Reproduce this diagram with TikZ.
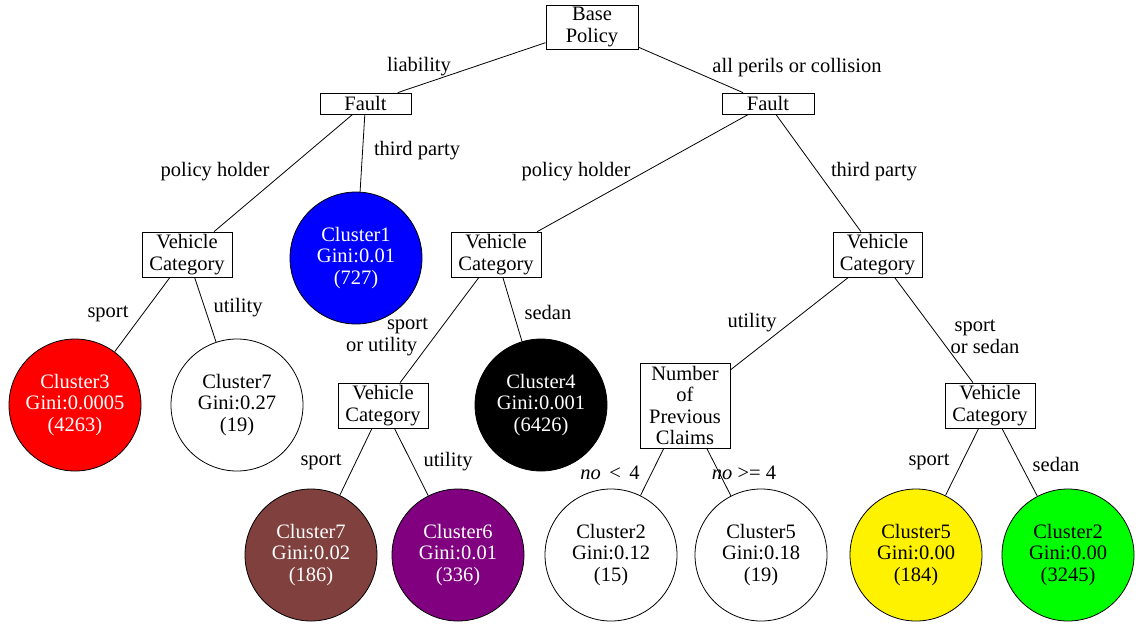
\documentclass[tikz,border=0pt]{standalone}
\usepackage{fontspec}
\setmainfont{Liberation Serif}
\begin{document}
\begin{tikzpicture}[x=1pt,y=-1pt,
  every node/.style={font=\fontsize{20.5}{21.5}\selectfont},
  test/.style={draw,line width=0.8pt,align=center,inner sep=1pt,fill=white},
  leaf/.style={circle,draw,line width=0.8pt,minimum size=132pt,inner sep=0pt,align=center},
  edge/.style={line width=0.8pt},
  lbl/.style={align=center,inner sep=0pt}]
\useasboundingbox (0,0) rectangle (1139,625);
% internal nodes
\node[test,minimum width=92pt,minimum height=44pt] (root) at (592,27) {Base\\Policy};
\node[test,minimum width=91pt,minimum height=21pt,inner sep=0pt] (f1) at (365.5,103.5) {Fault};
\node[test,minimum width=92pt,minimum height=21pt,inner sep=0pt] (f2) at (768,103.5) {Fault};
\node[test,minimum width=90pt,minimum height=45pt] (v1) at (187,254.5) {Vehicle\\Category};
\node[test,minimum width=90pt,minimum height=45pt] (v2) at (496,254.5) {Vehicle\\Category};
\node[test,minimum width=89pt,minimum height=45pt] (v3) at (877.5,254.5) {Vehicle\\Category};
\node[test,minimum width=90pt,minimum height=45pt] (v4) at (383,405.5) {Vehicle\\Category};
\node[test,minimum width=90pt,minimum height=45pt] (v5) at (990,405.5) {Vehicle\\Category};
\node[test,minimum width=90pt,minimum height=85pt] (np) at (685,405.5) {Number\\of\\Previous\\Claims};
% leaves
\node[leaf,fill={rgb,255:red,0;green,0;blue,255},text=white] (c1) at (356,258) {Cluster1\\Gini:0.01\\(727)};
\node[leaf,fill=red,text=white] (c3) at (75,405) {Cluster3\\Gini:0.0005\\(4263)};
\node[leaf,fill=white] (c7a) at (237,405) {Cluster7\\Gini:0.27\\(19)};
\node[leaf,fill=black,text=white] (c4) at (541,405) {Cluster4\\Gini:0.001\\(6426)};
\node[leaf,fill={rgb,255:red,128;green,64;blue,62},text=white] (c7b) at (311,555) {Cluster7\\Gini:0.02\\(186)};
\node[leaf,fill={rgb,255:red,128;green,0;blue,128},text=white] (c6) at (458,555) {Cluster6\\Gini:0.01\\(336)};
\node[leaf,fill=white] (c2a) at (611,555) {Cluster2\\Gini:0.12\\(15)};
\node[leaf,fill=white] (c5a) at (761,555) {Cluster5\\Gini:0.18\\(19)};
\node[leaf,fill=yellow] (c5b) at (916,555) {Cluster5\\Gini:0.00\\(184)};
\node[leaf,fill={rgb,255:red,0;green,255;blue,0}] (c2b) at (1068,555) {Cluster2\\Gini:0.00\\(3245)};
% edges
\draw[edge] (root) -- (f1);
\draw[edge] (root) -- (f2);
\draw[edge] (f1) -- (v1);
\draw[edge] (f1) -- (c1);
\draw[edge] (f2) -- (v2);
\draw[edge] (f2) -- (v3);
\draw[edge] (v1) -- (c3);
\draw[edge] (v1) -- (c7a);
\draw[edge] (v2) -- (v4);
\draw[edge] (v2) -- (c4);
\draw[edge] (v4) -- (c7b);
\draw[edge] (v4) -- (c6);
\draw[edge] (v3) -- (np);
\draw[edge] (v3) -- (v5);
\draw[edge] (np) -- (c2a);
\draw[edge] (np) -- (c5a);
\draw[edge] (v5) -- (c5b);
\draw[edge] (v5) -- (c2b);
% edge labels
\node[lbl] (l1) at (419,67) {liability};
\node[lbl] (l2) at (797,68) {all perils or collision};
\node[lbl] (l3) at (215,172) {policy holder};
\node[lbl] (l4) at (417,151) {third party};
\node[lbl] (l5) at (576,172) {policy holder};
\node[lbl] (l6) at (874,172) {third party};
\node[lbl] (l7) at (108,314) {sport};
\node[lbl] (l8) at (238,308) {utility};
\node[lbl,align=left] (l9) at (387,337) {\hspace*{41pt}sport\\or utility};
\node[lbl] (l10) at (548,312) {sedan};
\node[lbl] (l11) at (752,323) {utility};
\node[lbl,align=left] (l12) at (985,337) {\hspace*{4pt}sport\\or sedan};
\node[lbl] (l13) at (321,462) {sport};
\node[lbl] (l14) at (448,462) {utility};
\node[lbl] (l15) at (610,473) {\textit{no} \,<\, 4};
\node[lbl] (l16) at (744,473) {\textit{no} >= 4};
\node[lbl] (l17) at (929,462) {sport};
\node[lbl] (l18) at (1056,464) {sedan};
\end{tikzpicture}
\end{document}
